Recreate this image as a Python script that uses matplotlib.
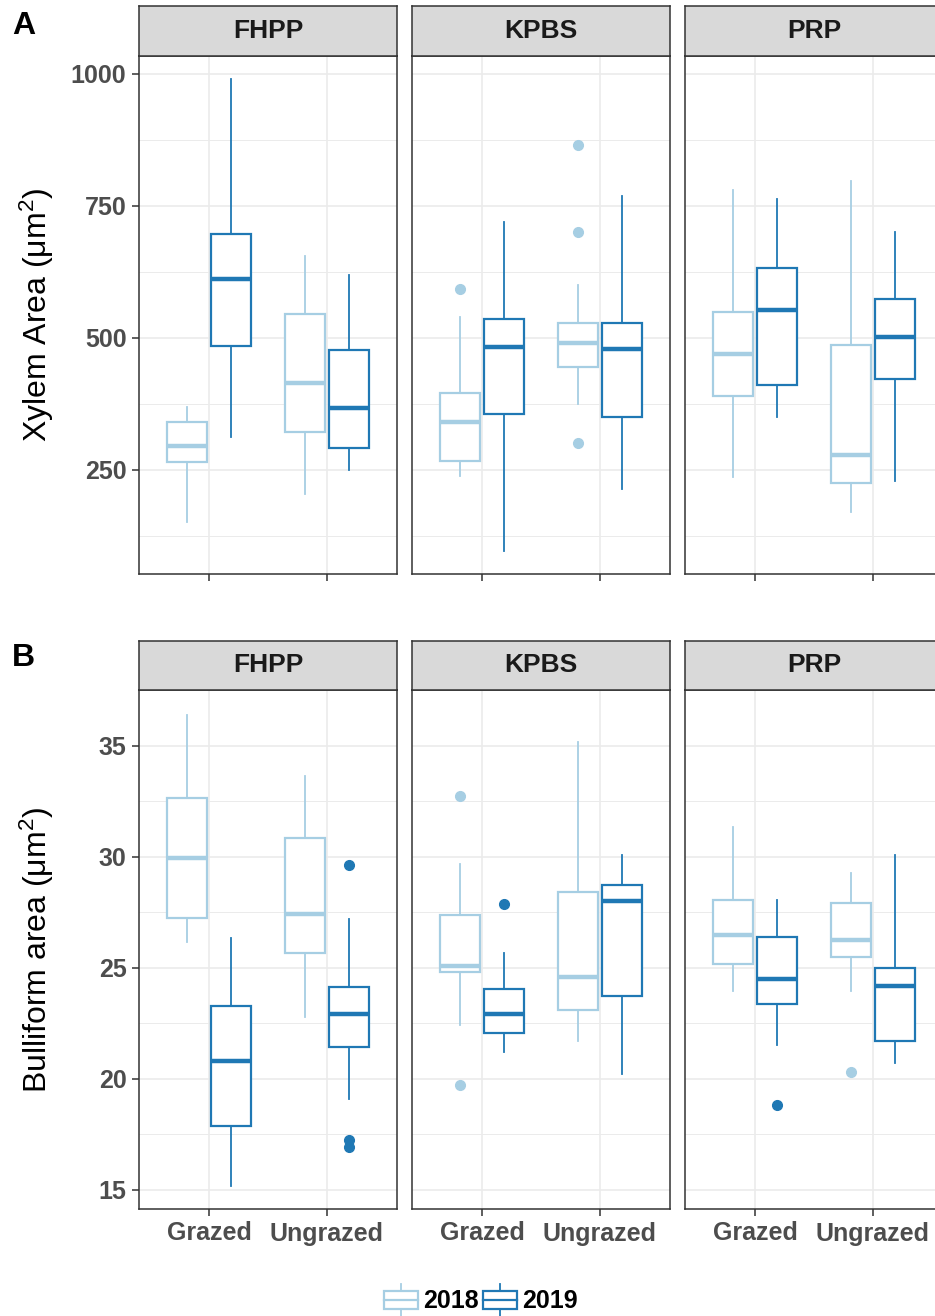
import matplotlib
matplotlib.use('Agg')
import matplotlib.pyplot as plt
from matplotlib.patches import Rectangle, Patch
from matplotlib.lines import Line2D
from matplotlib.legend_handler import HandlerBase
from matplotlib.ticker import MultipleLocator

plt.rcParams['font.family'] = ['Liberation Sans', 'DejaVu Sans']
plt.rcParams['mathtext.default'] = 'regular'

sites = ['FHPP', 'KPBS', 'PRP']
grazing = ['Grazed', 'Ungrazed']
years = ['2018', '2019']
year_colors = ['#a6cee3', '#1f78b4']

# box stats, per site in the order: Grazed 2018, Grazed 2019, Ungrazed 2018, Ungrazed 2019
xylem_whislo = [152, 312, 205, 250, 238, 97, 375, 214, 237, 351, 170, 230]
xylem_q1 = [265, 485, 321, 291, 267, 356, 445, 350, 390, 410, 225, 423]
xylem_med = [295, 611, 414, 367, 341, 482, 490, 479, 469, 553, 278, 501]
xylem_q3 = [341, 696, 546, 478, 396, 536, 528, 528, 550, 633, 487, 574]
xylem_whishi = [370, 990, 656, 619, 539, 719, 601, 768, 781, 764, 797, 700]
xylem_fliers = [[], [], [], [], [593], [], [866, 701, 302], [], [], [], [], []]

bull_whislo = [26.16, 15.18, 22.77, 19.11, 22.43, 21.20, 21.73, 20.20, 23.98, 21.53, 23.98, 20.70]
bull_q1 = [27.23, 17.86, 25.65, 21.43, 24.81, 22.09, 23.12, 23.72, 25.17, 23.38, 25.51, 21.69]
bull_med = [29.96, 20.80, 27.45, 22.92, 25.09, 22.94, 24.59, 28.01, 26.50, 24.51, 26.26, 24.18]
bull_q3 = [32.64, 23.28, 30.87, 24.14, 27.37, 24.06, 28.41, 28.74, 28.07, 26.38, 27.91, 25.01]
bull_whishi = [36.41, 26.36, 33.65, 27.21, 29.66, 25.69, 35.16, 30.09, 31.33, 28.07, 29.28, 30.09]
bull_fliers = [[], [], [], [29.62, 17.24, 16.93], [32.76, 19.71], [27.89], [], [],
               [], [18.81], [20.32], []]

xylem_ticks = [250, 500, 750, 1000]
bull_ticks = [15, 20, 25, 30, 35]

W, H = 935, 1316
fig = plt.figure(figsize=(W / 100, H / 100), dpi=100)


def frac(left, top, width, height):
    return [left / W, 1 - (top + height) / H, width / W, height / H]


class BoxKeyHandler(HandlerBase):
    # small boxplot glyph for the legend keys
    def create_artists(self, legend, orig_handle, xdescent, ydescent,
                       width, height, fontsize, trans):
        c = orig_handle.get_edgecolor()
        x0, y0 = -xdescent, -ydescent
        cx = x0 + width / 2
        whisk = Line2D([cx, cx], [y0 - 0.1 * height, y0 + 1.1 * height],
                       color=c, lw=1.3, transform=trans)
        box = Rectangle((x0 + 0.05 * width, y0 + 0.18 * height), 0.9 * width,
                        0.64 * height, facecolor='white', edgecolor=c, lw=1.6,
                        transform=trans)
        med = Line2D([x0 + 0.05 * width, x0 + 0.95 * width], [y0 + height / 2] * 2,
                     color=c, lw=1.6, transform=trans)
        return [whisk, box, med]


grid_col = '#ebebeb'
dark = '#333333'
col_left = [139, 412, 685]
panel_w = 258

rows = [
    dict(strip_top=6, top=56, bottom=574, ylim=(53, 1034), ticks=xylem_ticks, minor=125,
         stats=(xylem_whislo, xylem_q1, xylem_med, xylem_q3, xylem_whishi, xylem_fliers),
         xlabels=False, title='Xylem Area (μm$^{2}$)', tag='A', tag_y=34),
    dict(strip_top=641, top=690, bottom=1209, ylim=(14.14, 37.52), ticks=bull_ticks, minor=2.5,
         stats=(bull_whislo, bull_q1, bull_med, bull_q3, bull_whishi, bull_fliers),
         xlabels=True, title='Bulliform area (μm$^{2}$)', tag='B', tag_y=666),
]

for r in rows:
    whislo, q1, med, q3, whishi, fliers = r['stats']
    for j, site in enumerate(sites):
        ax = fig.add_axes(frac(col_left[j], r['top'], panel_w, r['bottom'] - r['top']))
        ax.set_axisbelow(True)
        for k, year in enumerate(years):
            stats, pos = [], []
            for g in range(2):
                i = j * 4 + g * 2 + k
                stats.append(dict(med=med[i], q1=q1[i], q3=q3[i], whislo=whislo[i],
                                  whishi=whishi[i], fliers=fliers[i]))
                pos.append(g + 1 + (k - 0.5) * 0.376)
            c = year_colors[k]
            ax.bxp(stats, positions=pos, widths=0.34, showcaps=False, patch_artist=True,
                   manage_ticks=False,
                   boxprops=dict(facecolor='white', edgecolor=c, linewidth=1.6),
                   medianprops=dict(color=c, linewidth=3.2, solid_capstyle='butt'),
                   whiskerprops=dict(color=c, linewidth=1.3),
                   flierprops=dict(marker='o', markerfacecolor=c, markeredgecolor=c,
                                   markersize=7, linestyle='none'))
        ax.set_xlim(0.4, 2.6)
        ax.set_ylim(*r['ylim'])
        ax.yaxis.set_minor_locator(MultipleLocator(r['minor']))
        ax.grid(which='major', color=grid_col, linewidth=1.2)
        ax.grid(which='minor', axis='y', color=grid_col, linewidth=0.7)
        for s in ax.spines.values():
            s.set_color(dark)
            s.set_linewidth(1.1)
        ax.set_xticks([1, 2])
        if r['xlabels']:
            ax.set_xticklabels(grazing, fontweight='bold', fontsize=18, color='#4d4d4d')
        else:
            ax.set_xticklabels([])
        ax.set_yticks(r['ticks'])
        if j == 0:
            ax.set_yticklabels([str(t) for t in r['ticks']], fontweight='bold',
                               fontsize=18, color='#4d4d4d')
        else:
            ax.tick_params(axis='y', left=False, labelleft=False)
        ax.tick_params(which='major', length=5, width=1.1, color=dark, pad=4)
        ax.tick_params(which='minor', length=0)

        # facet strip
        sax = fig.add_axes(frac(col_left[j], r['strip_top'], panel_w,
                                r['top'] - r['strip_top']))
        sax.set_facecolor('#d9d9d9')
        sax.set_xticks([])
        sax.set_yticks([])
        for s in sax.spines.values():
            s.set_color(dark)
            s.set_linewidth(1.1)
        sax.text(0.5, 0.5, site, ha='center', va='center', fontsize=19,
                 fontweight='bold', color='#1a1a1a', transform=sax.transAxes)

    fig.text(37 / W, 1 - (r['top'] + r['bottom']) / 2 / H, r['title'], rotation=90,
             ha='center', va='center', fontsize=23)
    fig.text(12 / W, 1 - r['tag_y'] / H, r['tag'], ha='left', va='baseline',
             fontsize=23, fontweight='bold')

handles = [Patch(edgecolor=c, facecolor='white', label=y) for y, c in zip(years, year_colors)]
fig.legend(handles=handles, loc='center', bbox_to_anchor=(480 / W, 1 - 1300 / H), ncol=2,
           frameon=False, handler_map={Patch: BoxKeyHandler()},
           prop=dict(weight='bold', size=18), handlelength=1.5, handleheight=1.3,
           handletextpad=0.15, columnspacing=0.1, borderpad=0, borderaxespad=0)

fig.savefig('out.png', dpi=100, facecolor='white')
